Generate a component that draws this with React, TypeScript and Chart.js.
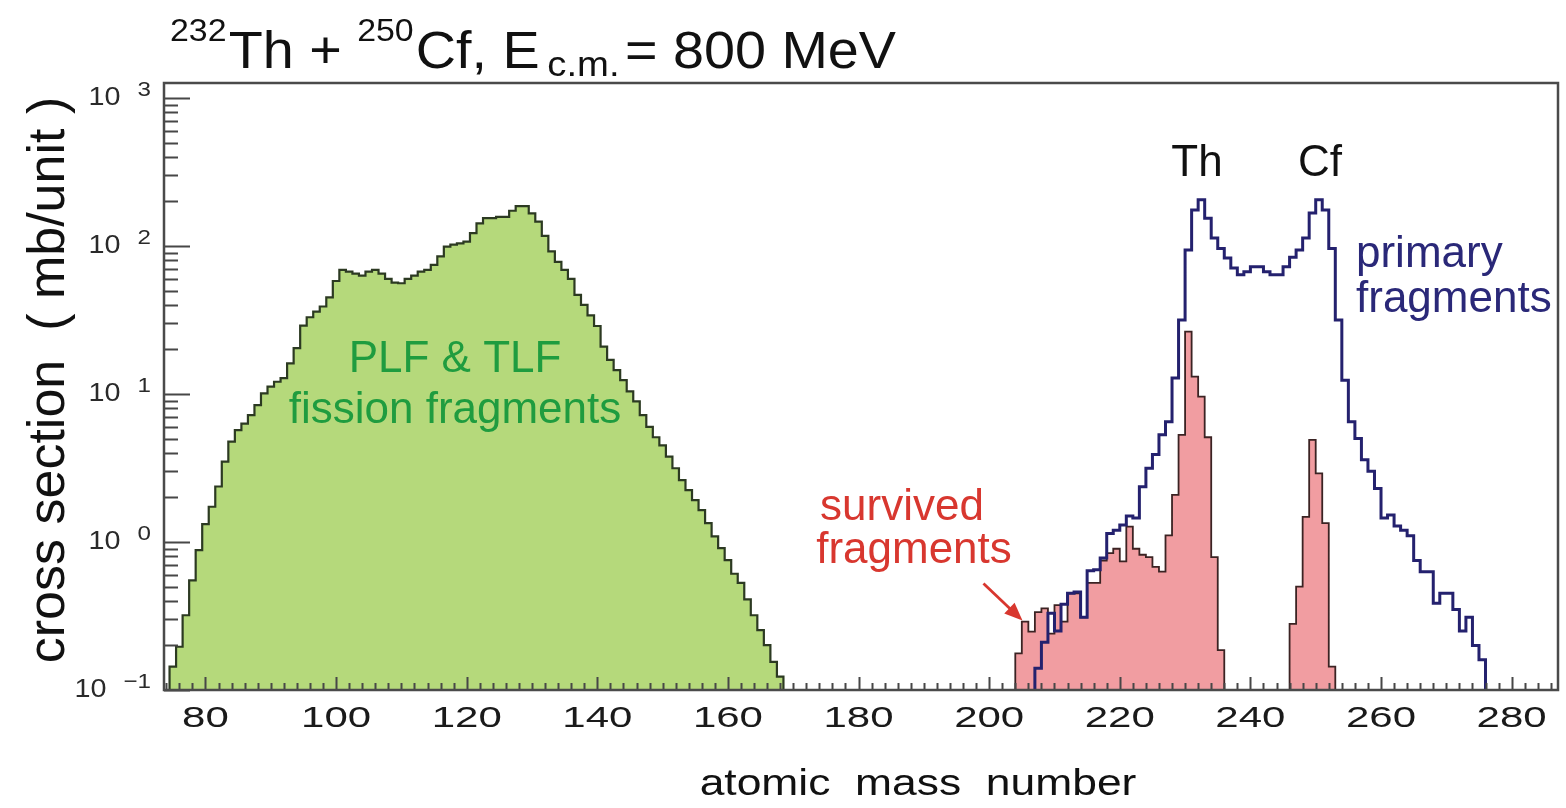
import React, { useEffect, useRef } from "react";
import { Chart, registerables } from "chart.js";

Chart.register(...registerables);

const FONT = '"Liberation Sans", Arial, Helvetica, sans-serif';

// Bin contents in mb/unit, one bin per mass unit, listed from the given lower bin edge.
const FISSION_START = 74.5;
const FISSION = [
  0.144, 0.196, 0.32, 0.55, 0.88, 1.32, 1.73, 2.37, 3.49, 4.77, 5.7, 6.3, 7.2, 8.4,
  10.1, 11.2, 12.1, 12.8, 16.1, 20.4, 29, 33, 36, 39, 45, 58,
  69, 67, 65, 63, 67, 69, 65, 60, 56.5, 56, 60, 63, 67, 69, 74.5, 85, 99, 102, 104,
  107, 122, 142, 154, 154, 157, 157, 173, 186, 186,
  166, 146, 117, 92, 78, 69, 60, 46.7,
  40, 34, 28.8, 20.9, 17, 14.5, 12.4, 10.4, 8.9, 7.2, 6.0, 5.1, 4.5, 3.77, 3.15,
  2.62, 2.24, 1.92, 1.64, 1.34, 1.09, 0.91, 0.755, 0.61, 0.53, 0.41, 0.32, 0.254,
  0.201, 0.155, 0.123,
];

const SURVIVED_START = 204;
const SURVIVED = [
  0.177, 0.29, 0.248, 0.336, 0.356, 0.24, 0.375, 0.29, 0.45, 0.45, 0.31, 0.53, 0.53,
  0.75, 0.84, 0.9, 0.74, 1.27, 0.9, 0.82, 0.79, 0.68, 0.63, 1.11, 2.08, 5.3, 26.4,
  13.1, 9.6, 5.1, 0.79, 0.186,
  0, 0, 0, 0, 0, 0, 0, 0, 0, 0,
  0.28, 0.5, 1.48, 4.9, 2.91, 1.34, 0.144,
];

const PRIMARY_START = 207;
const PRIMARY = [
  0.14, 0.21, 0.33, 0.25, 0.38, 0.45, 0.46, 0.31, 0.64, 0.65,
  0.78, 1.14, 1.2, 1.3, 1.5, 1.45, 2.36, 3.15, 3.9, 5.3,
  6.5, 12.8, 31.6, 94, 175, 205, 154, 113, 96, 83,
  71, 64, 67, 72.5, 72.5, 67, 64, 64, 72.5, 84,
  94, 113, 167, 205, 175, 96, 31.6, 12.4, 6.5, 5.0,
  3.6, 3.0, 2.3, 1.45, 1.52, 1.28, 1.2, 1.1, 0.75, 0.63,
  0.63, 0.385, 0.45, 0.45, 0.35, 0.25, 0.31, 0.2, 0.16,
];

const X_MIN = 73.65;
const X_MAX = 287.1;
const Y_MIN = 0.1;
const Y_MAX = 1262;
const X_TICKS = [80, 100, 120, 140, 160, 180, 200, 220, 240, 260, 280];
const Y_DECADES = [-1, 0, 1, 2, 3];

// Empty bins and the outer edges are sent below the axis floor so the outline drops to the axis.
const BELOW_AXIS = 1e-3;

function histogramPoints(start: number, values: number[]) {
  const level = (v: number) => (v > 0 ? v : BELOW_AXIS);
  const pts = [{ x: start, y: BELOW_AXIS }];
  values.forEach((v, i) => pts.push({ x: start + i, y: level(v) }));
  pts.push({ x: start + values.length, y: level(values[values.length - 1]) });
  pts.push({ x: start + values.length, y: BELOW_AXIS });
  return pts;
}

function drawText(
  ctx: CanvasRenderingContext2D,
  s: string,
  x: number,
  y: number,
  size: number,
  color: string,
  align: CanvasTextAlign = "left",
  sx = 1
) {
  ctx.save();
  ctx.font = `${size}px ${FONT}`;
  ctx.fillStyle = color;
  ctx.textAlign = align;
  ctx.textBaseline = "alphabetic";
  ctx.translate(x, y);
  ctx.scale(sx, 1);
  ctx.fillText(s, 0, 0);
  ctx.restore();
}

const framePlugin = {
  id: "rootFrame",
  afterDatasetsDraw(chart: any) {
    const ctx: CanvasRenderingContext2D = chart.ctx;
    const { left, right, top, bottom } = chart.chartArea;
    const xs = chart.scales.x;
    const ys = chart.scales.y;

    ctx.save();
    ctx.strokeStyle = "#474747";
    ctx.lineWidth = 2;
    ctx.beginPath();
    // x ticks every 2 mass units, longer at labelled values
    for (let v = Math.ceil(xs.min / 2) * 2; v <= xs.max; v += 2) {
      const px = Math.round(xs.getPixelForValue(v)) + 0.5;
      const len = v % 20 === 0 ? 13 : 7;
      ctx.moveTo(px, bottom);
      ctx.lineTo(px, bottom - len);
    }
    // logarithmic y ticks
    for (let e = -1; e <= 3; e++) {
      for (let k = 1; k <= 9; k++) {
        const v = k * Math.pow(10, e);
        if (v < ys.min * 0.999 || v > ys.max) continue;
        const py = Math.round(ys.getPixelForValue(v)) + 0.5;
        const len = k === 1 ? 26 : 14;
        ctx.moveTo(left, py);
        ctx.lineTo(left + len, py);
      }
    }
    ctx.stroke();

    ctx.lineWidth = 2.5;
    ctx.strokeStyle = "#4a4a4a";
    ctx.strokeRect(left, top, right - left, bottom - top);
    ctx.restore();

    // x tick labels
    X_TICKS.forEach((v) => {
      drawText(ctx, String(v), xs.getPixelForValue(v), 727, 30, "#1a1a1a", "center", 1.4);
    });

    // y tick labels: 10 with a raised exponent
    Y_DECADES.forEach((e) => {
      const py = ys.getPixelForValue(Math.pow(10, e));
      const exp = e < 0 ? "\u2212" + String(-e) : String(e);
      ctx.save();
      ctx.font = `21px ${FONT}`;
      const we = ctx.measureText(exp).width * 1.15;
      ctx.restore();
      const right = 151;
      const xExp = right - we;
      drawText(ctx, "10", xExp - 17, py + 7, 25, "#2a2a2a", "right", 1.15);
      drawText(ctx, exp, xExp, py - 2, 21, "#2a2a2a", "left", 1.15);
    });
  },
  afterDraw(chart: any) {
    const ctx: CanvasRenderingContext2D = chart.ctx;
    const xs = chart.scales.x;
    const ys = chart.scales.y;

    // title with isotope superscripts and c.m. subscript
    const parts = [
      { s: "232", size: 31, dy: -27, gap: 2 },
      { s: "Th + ", size: 51, dy: 0, gap: 0 },
      { s: "250", size: 31, dy: -27, gap: 2 },
      { s: "Cf, E", size: 51, dy: 0, gap: 7 },
      { s: "c.m.", size: 35, dy: 8, gap: 5 },
      { s: "= 800 MeV", size: 51, dy: 0, gap: 0 },
    ];
    ctx.save();
    let total = 0;
    const widths = parts.map((p) => {
      ctx.font = `${p.size}px ${FONT}`;
      const w = ctx.measureText(p.s).width + p.gap;
      total += w;
      return w;
    });
    const sx = (896 - 170) / total;
    ctx.translate(170, 68);
    ctx.scale(sx, 1);
    ctx.fillStyle = "#111";
    ctx.textBaseline = "alphabetic";
    ctx.textAlign = "left";
    let cx = 0;
    parts.forEach((p, i) => {
      ctx.font = `${p.size}px ${FONT}`;
      ctx.fillText(p.s, cx, p.dy);
      cx += widths[i];
    });
    ctx.restore();

    // axis titles
    drawText(ctx, "atomic  mass  number", 918, 795, 37, "#111", "center", 1.2);
    ctx.save();
    ctx.translate(64, 380);
    ctx.rotate(-Math.PI / 2);
    ctx.font = `52px ${FONT}`;
    ctx.fillStyle = "#111";
    ctx.textAlign = "center";
    ctx.fillText("cross section  ( mb/unit )", 0, 0);
    ctx.restore();

    // annotations
    drawText(ctx, "PLF & TLF", 455, 372, 44, "#1f9c3f", "center");
    drawText(ctx, "fission fragments", 455, 423, 44, "#1f9c3f", "center");
    drawText(ctx, "Th", 1197, 176, 44, "#111", "center");
    drawText(ctx, "Cf", 1320, 176, 44, "#111", "center");
    drawText(ctx, "primary", 1356, 267, 44, "#2a2878", "left");
    drawText(ctx, "fragments", 1356, 312, 44, "#2a2878", "left");
    drawText(ctx, "survived", 902, 520, 44, "#d8372f", "center");
    drawText(ctx, "fragments", 914, 563, 44, "#d8372f", "center");

    // arrow pointing at the lightest survived bins
    const tipX = xs.getPixelForValue(SURVIVED_START + 1.1);
    const tipY = ys.getPixelForValue(SURVIVED[1]) - 1;
    const fromX = tipX - 39;
    const fromY = tipY - 37;
    const ang = Math.atan2(tipY - fromY, tipX - fromX);
    ctx.save();
    ctx.strokeStyle = "#d8372f";
    ctx.fillStyle = "#d8372f";
    ctx.lineWidth = 2.8;
    ctx.beginPath();
    ctx.moveTo(fromX, fromY);
    ctx.lineTo(tipX - 12 * Math.cos(ang), tipY - 12 * Math.sin(ang));
    ctx.stroke();
    ctx.beginPath();
    ctx.moveTo(tipX, tipY);
    ctx.lineTo(tipX - 18 * Math.cos(ang) + 7.5 * Math.sin(ang), tipY - 18 * Math.sin(ang) - 7.5 * Math.cos(ang));
    ctx.lineTo(tipX - 18 * Math.cos(ang) - 7.5 * Math.sin(ang), tipY - 18 * Math.sin(ang) + 7.5 * Math.cos(ang));
    ctx.closePath();
    ctx.fill();
    ctx.restore();
  },
};

export default function App() {
  const canvasRef = useRef<HTMLCanvasElement | null>(null);

  useEffect(() => {
    if (!canvasRef.current) return;
    const chart = new Chart(canvasRef.current, {
      type: "line",
      data: {
        datasets: [
          {
            label: "primary fragments",
            data: histogramPoints(PRIMARY_START, PRIMARY),
            stepped: "before",
            borderColor: "#24216e",
            borderWidth: 3,
            pointRadius: 0,
            fill: false,
            order: 1,
          },
          {
            label: "survived fragments",
            data: histogramPoints(SURVIVED_START, SURVIVED),
            stepped: "before",
            borderColor: "#3b2323",
            borderWidth: 1.8,
            backgroundColor: "#f19da1",
            pointRadius: 0,
            fill: "start",
            order: 2,
          },
          {
            label: "PLF & TLF fission fragments",
            data: histogramPoints(FISSION_START, FISSION),
            stepped: "before",
            borderColor: "#2c3a22",
            borderWidth: 2.2,
            backgroundColor: "#b5d97b",
            pointRadius: 0,
            fill: "start",
            order: 3,
          },
        ],
      },
      options: {
        responsive: false,
        animation: false,
        devicePixelRatio: 1,
        layout: { padding: { left: 164, right: 8, top: 83, bottom: 118 } },
        plugins: {
          legend: { display: false },
          tooltip: { enabled: false },
        },
        scales: {
          x: { type: "linear", min: X_MIN, max: X_MAX, display: false },
          y: { type: "logarithmic", min: Y_MIN, max: Y_MAX, display: false },
        },
      },
      plugins: [framePlugin],
    });
    return () => chart.destroy();
  }, []);

  return (
    <div style={{ position: "absolute", left: 0, top: 0, width: 1566, height: 808, background: "#fff" }}>
      <canvas ref={canvasRef} width={1566} height={808} style={{ display: "block" }} />
    </div>
  );
}
